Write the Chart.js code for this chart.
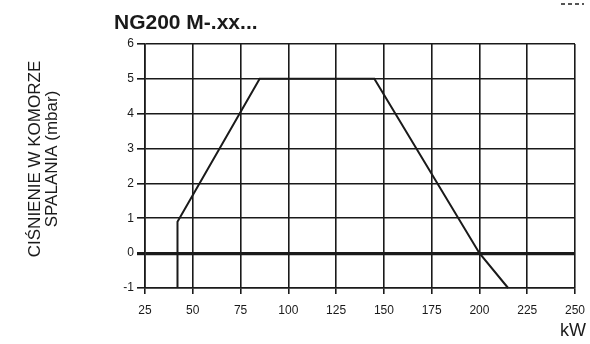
<!DOCTYPE html>
<html>
<head>
<meta charset="utf-8">
<script src="https://cdn.jsdelivr.net/npm/chart.js@4.4.0/dist/chart.umd.min.js"></script>
<style>
  html, body { margin: 0; padding: 0; background: #fff; }
  #wrap { width: 590px; height: 344px; position: relative; }
</style>
</head>
<body>
<div id="wrap"><canvas id="myChart" width="590" height="344"></canvas></div>
<script>
// working field of the burner
var chartTitle = 'NG200 M-.xx...';
var yTitle = ['CIŚNIENIE W KOMORZE', 'SPALANIA (mbar)'];
var xUnit = 'kW';
var loadKw = [42, 42, 85, 145, 200, 215];
var pressureMbar = [-1, 0.9, 5, 5, 0, -1];
var xTicks = [25, 50, 75, 100, 125, 150, 175, 200, 225, 250];
var yTicks = [-1, 0, 1, 2, 3, 4, 5, 6];

var ink = '#1a1a1a';
var family = '"Liberation Sans", Arial, sans-serif';

var points = loadKw.map(function (kw, i) {
  return { x: kw, y: pressureMbar[i] };
});

// texts around the plot
var labelsPlugin = {
  id: 'labels',
  afterDraw: function (chart) {
    var ctx = chart.ctx;
    var area = chart.chartArea;
    ctx.save();
    ctx.fillStyle = ink;

    ctx.font = 'bold 21px ' + family;
    ctx.textAlign = 'left';
    ctx.textBaseline = 'alphabetic';
    ctx.fillText(chartTitle, 114, 29);

    ctx.font = '17px ' + family;
    ctx.save();
    ctx.translate(0, 159);
    ctx.rotate(-Math.PI / 2);
    ctx.textAlign = 'center';
    ctx.fillText(yTitle[0], 0, 39.5);
    ctx.fillText(yTitle[1], 0, 57);
    ctx.restore();

    ctx.font = '18px ' + family;
    ctx.textAlign = 'right';
    ctx.fillText(xUnit, area.right + 11, 336);

    // cut-off mark at top right corner
    ctx.strokeStyle = '#555';
    ctx.lineWidth = 2;
    ctx.setLineDash([4, 3]);
    ctx.beginPath();
    ctx.moveTo(561, 4);
    ctx.lineTo(584, 4);
    ctx.stroke();
    ctx.restore();
  }
};

var ctx = document.getElementById('myChart');
var myChart = new Chart(ctx, {
  type: 'scatter',
  data: {
    datasets: [{
      data: points,
      showLine: true,
      borderColor: ink,
      borderWidth: 2,
      pointRadius: 0,
      tension: 0,
      clip: false
    }]
  },
  options: {
    responsive: false,
    animation: false,
    layout: { padding: { top: 44, right: 15, bottom: 0, left: 0 } },
    plugins: {
      legend: { display: false },
      tooltip: { enabled: false }
    },
    scales: {
      x: {
        type: 'linear',
        min: 25,
        max: 250,
        afterBuildTicks: function (scale) {
          scale.ticks = xTicks.map(function (v) { return { value: v }; });
        },
        afterFit: function (scale) {
          scale.height = 56;
          scale.paddingLeft = 0;
          scale.paddingRight = 0;
        },
        grid: {
          color: ink,
          lineWidth: 1.6,
          tickLength: 6,
          drawTicks: true
        },
        border: { display: true, color: ink, width: 1.6 },
        ticks: {
          color: ink,
          padding: 9,
          maxRotation: 0,
          font: { family: family, size: 12 }
        }
      },
      y: {
        type: 'linear',
        min: -1,
        max: 6,
        afterBuildTicks: function (scale) {
          scale.ticks = yTicks.map(function (v) { return { value: v }; });
        },
        afterFit: function (scale) {
          scale.width = 145;
          scale.paddingTop = 0;
          scale.paddingBottom = 0;
        },
        grid: {
          color: ink,
          lineWidth: function (c) {
            return c.tick && c.tick.value === 0 ? 3.2 : 1.6;
          },
          tickLength: 8
        },
        border: { display: true, color: ink, width: 1.6 },
        ticks: {
          color: ink,
          padding: 3,
          font: { family: family, size: 12 }
        }
      }
    }
  },
  plugins: [labelsPlugin]
});
</script>
</body>
</html>
